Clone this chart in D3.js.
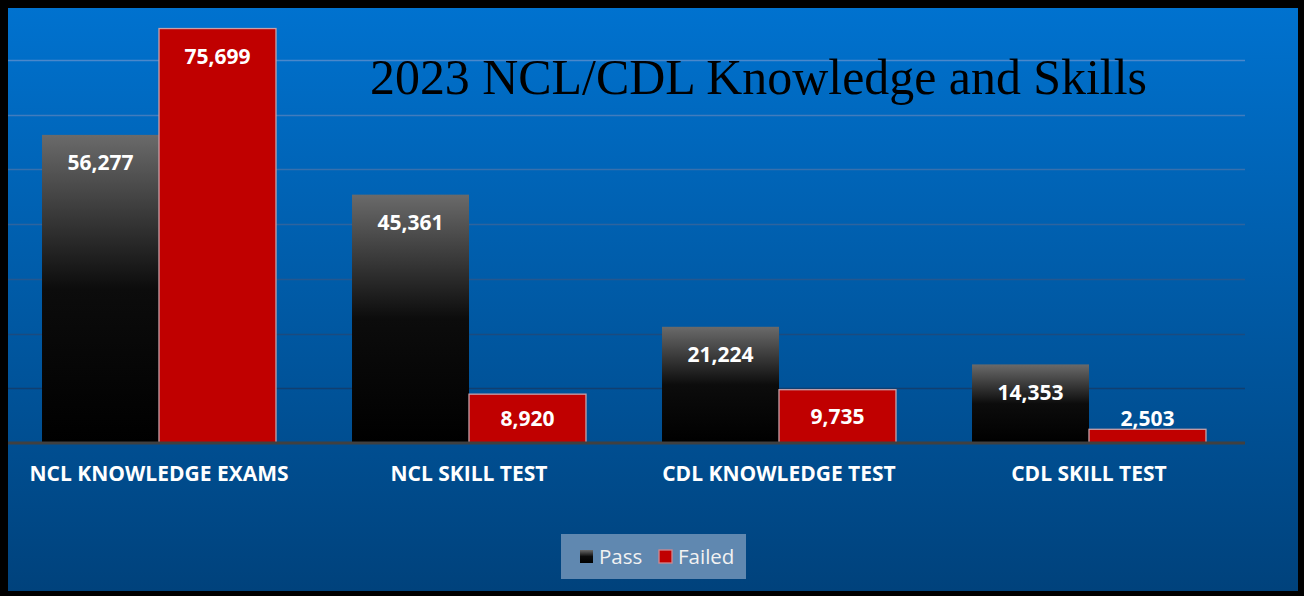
<!DOCTYPE html>
<html>
<head>
<meta charset="utf-8">
<script src="https://cdn.jsdelivr.net/npm/d3@7"></script>
<style>
	html, body { margin: 0; padding: 0; background: #000; }
	svg { display: block; }
</style>
</head>
<body>
<div id="chart"></div>
<script>
const categories = ['NCL KNOWLEDGE EXAMS', 'NCL SKILL TEST', 'CDL KNOWLEDGE TEST', 'CDL SKILL TEST'];
const seriesNames = ['Pass', 'Failed'];
const passValues = [56277, 45361, 21224, 14353];
const failedValues = [75699, 8920, 9735, 2503];
const gridTicks = [10000, 20000, 30000, 40000, 50000, 60000, 70000];
const chartTitle = '2023 NCL/CDL Knowledge and Skills';

const width = 1304;
const height = 596;

const svg = d3
	.select('#chart')
	.append('svg')
	.attr('width', width)
	.attr('height', height);

const defs = svg.append('defs');

const bg = defs.append('linearGradient')
	.attr('id', 'bg')
	.attr('x1', 0).attr('y1', 0).attr('x2', 0).attr('y2', 1);
bg.append('stop').attr('offset', '0%').attr('stop-color', '#0072cf');
bg.append('stop').attr('offset', '100%').attr('stop-color', '#00427c');

const passGrad = defs.append('linearGradient')
	.attr('id', 'passGrad')
	.attr('x1', 0).attr('y1', 0).attr('x2', 0).attr('y2', 1);
passGrad.append('stop').attr('offset', '0%').attr('stop-color', '#6a6a6a');
passGrad.append('stop').attr('offset', '50%').attr('stop-color', '#0c0c0c');
passGrad.append('stop').attr('offset', '100%').attr('stop-color', '#000000');

// outer black frame + blue panel
svg.append('rect')
	.attr('width', width).attr('height', height)
	.attr('fill', '#000');
svg.append('rect')
	.attr('x', 8).attr('y', 8)
	.attr('width', 1290).attr('height', 583)
	.attr('fill', 'url(#bg)');

const plotLeft = 8;
const plotRight = 1245;
const x0 = d3.scaleBand().domain(categories).range([4, 1244]);
const x1 = d3.scaleBand().domain(seriesNames)
	.range([0, x0.bandwidth()])
	.paddingInner(0)
	.paddingOuter(0.325);
const y = d3.scaleLinear().domain([0, 80000]).range([443, 5]);

// gridlines, lighter at the top and darker at the bottom like the original
const gridColor = d3.scaleLinear()
	.domain([y(70000), y(10000)])
	.range(['#4a88cc', '#113f70'])
	.interpolate(d3.interpolateRgb);

svg.append('g')
	.selectAll('line')
	.data(gridTicks)
	.enter()
	.append('line')
	.attr('x1', plotLeft)
	.attr('x2', plotRight)
	.attr('y1', (d) => Math.round(y(d)) + 0.5)
	.attr('y2', (d) => Math.round(y(d)) + 0.5)
	.attr('stroke', (d) => gridColor(y(d)))
	.attr('stroke-width', 1.3);

// title
svg.append('text')
	.attr('x', 370)
	.attr('y', 94)
	.attr('textLength', 777)
	.attr('lengthAdjust', 'spacingAndGlyphs')
	.style('font-family', '"Liberation Serif", "DejaVu Serif", serif')
	.style('font-size', '50px')
	.attr('fill', '#000')
	.text(chartTitle);

const rows = categories.map((c, i) => ({
	category: c,
	values: [
		{ key: 'Pass', value: passValues[i] },
		{ key: 'Failed', value: failedValues[i] },
	],
}));

const groups = svg.append('g')
	.selectAll('g')
	.data(rows)
	.enter()
	.append('g')
	.attr('transform', (d) => `translate(${x0(d.category)},0)`);

groups.selectAll('rect')
	.data((d) => d.values)
	.enter()
	.append('rect')
	.attr('x', (d) => x1(d.key))
	.attr('y', (d) => y(d.value))
	.attr('width', x1.bandwidth())
	.attr('height', (d) => y(0) - y(d.value))
	.attr('fill', (d) => (d.key === 'Pass' ? 'url(#passGrad)' : '#c00000'))
	.attr('stroke', (d) => (d.key === 'Pass' ? 'none' : '#c8a0a8'))
	.attr('stroke-width', 1.3);

const fmt = d3.format(',');
groups.selectAll('text')
	.data((d) => d.values)
	.enter()
	.append('text')
	.attr('x', (d) => x1(d.key) + x1.bandwidth() / 2)
	.attr('y', (d) => {
		const top = y(d.value);
		const h = y(0) - top;
		if (h < 28) return top - 11;
		return Math.min(top + 28, top + h / 2);
	})
	.attr('dy', '0.35em')
	.attr('text-anchor', 'middle')
	.attr('fill', '#fff')
	.style('font-family', '"Open Sans", sans-serif')
	.style('font-weight', 700)
	.style('font-size', '21px')
	.text((d) => fmt(d.value));

// x axis line
svg.append('line')
	.attr('x1', plotLeft)
	.attr('x2', plotRight)
	.attr('y1', 443)
	.attr('y2', 443)
	.attr('stroke', '#404040')
	.attr('stroke-width', 3);

// category labels
svg.append('g')
	.selectAll('text')
	.data(categories)
	.enter()
	.append('text')
	.attr('x', (d) => x0(d) + x0.bandwidth() / 2)
	.attr('y', 474)
	.attr('dy', '0.35em')
	.attr('text-anchor', 'middle')
	.attr('fill', '#fff')
	.style('font-family', '"Open Sans", sans-serif')
	.style('font-weight', 700)
	.style('font-size', '21px')
	.text((d) => d);

// legend
const legend = svg.append('g');
legend.append('rect')
	.attr('x', 561).attr('y', 534)
	.attr('width', 185).attr('height', 45)
	.attr('fill', '#6088b0');

const legendItems = [
	{ key: 'Pass', x: 580, tx: 599 },
	{ key: 'Failed', x: 659, tx: 678 },
];
legend.selectAll('rect.swatch')
	.data(legendItems)
	.enter()
	.append('rect')
	.attr('class', 'swatch')
	.attr('x', (d) => d.x)
	.attr('y', 550)
	.attr('width', 13)
	.attr('height', 13)
	.attr('fill', (d) => (d.key === 'Pass' ? 'url(#passGrad)' : '#c00000'))
	.attr('stroke', (d) => (d.key === 'Pass' ? 'none' : '#d08890'))
	.attr('stroke-width', 1.3);
legend.selectAll('text')
	.data(legendItems)
	.enter()
	.append('text')
	.attr('x', (d) => d.tx)
	.attr('y', 557)
	.attr('dy', '0.35em')
	.attr('fill', '#f2f2f2')
	.style('font-family', '"Open Sans", sans-serif')
	.style('font-size', '20.5px')
	.text((d) => d.key);
</script>
</body>
</html>
